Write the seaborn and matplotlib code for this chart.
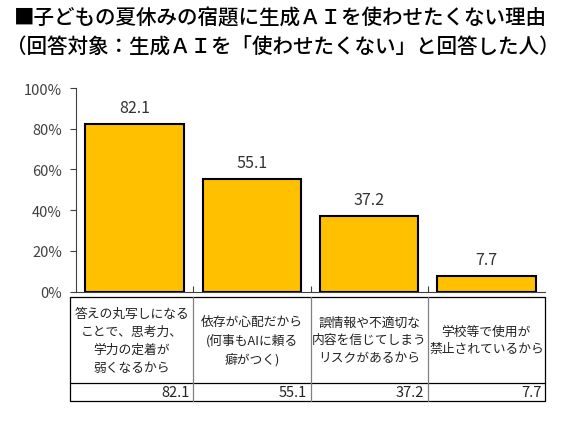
import matplotlib
matplotlib.use("Agg")
import matplotlib.pyplot as plt
import matplotlib.transforms as mtransforms
from matplotlib.lines import Line2D
import seaborn as sns
import pandas as pd

categories = [
    "答えの丸写しになる\nことで、思考力、\n学力の定着が\n弱くなるから",
    "依存が心配だから\n(何事もAIに頼る\n癖がつく)",
    "誤情報や不適切な\n内容を信じてしまう\nリスクがあるから",
    "学校等で使用が\n禁止されているから",
]
values = [82.1, 55.1, 37.2, 7.7]
yticks = [0, 20, 40, 60, 80, 100]
title1 = "■子どもの夏休みの宿題に生成ＡＩを使わせたくない理由"
title2 = "（回答対象：生成ＡＩを「使わせたくない」と回答した人）"

sns.set_theme(style="white")
plt.rcParams['font.family'] = ['Noto Sans CJK JP', 'DejaVu Sans']

df = pd.DataFrame({"cat": [str(i) for i in range(len(categories))], "val": values})

W, H = 576, 427
fig = plt.figure(figsize=(W / 100, H / 100), dpi=100)
ax = fig.add_axes([76 / W, 1 - 292.5 / H, (545 - 76) / W, (292.5 - 89) / H])

sns.barplot(data=df, x="cat", y="val", color="#FFC000", width=0.84,
            edgecolor="black", linewidth=1.5, saturation=1, ax=ax)

ax.set_ylim(0, 100)
ax.set_xlim(-0.5, len(categories) - 0.5)
ax.set_yticks(yticks)
ax.set_yticklabels([f"{t}%" for t in yticks], fontsize=10.5, color="#404040")
ax.set_xticks([i + 0.5 for i in range(len(categories) - 1)])
ax.set_xticklabels([])
ax.tick_params(axis="y", direction="out", length=4, width=0.8, color="#404040", pad=6, left=True)
ax.tick_params(axis="x", direction="in", length=4, width=0.8, color="#404040", bottom=True)
ax.set_xlabel("")
ax.set_ylabel("")
for s in ["top", "right"]:
    ax.spines[s].set_visible(False)
for s in ["left", "bottom"]:
    ax.spines[s].set_color("#404040")
    ax.spines[s].set_linewidth(0.8)

for i, v in enumerate(values):
    ax.text(i, v + 4, f"{v:.1f}", ha="center", va="bottom", fontsize=11.5, color="#333333")

# data table
tr = mtransforms.blended_transform_factory(ax.transData, fig.transFigure)
y_top = 1 - 298 / H
y_mid = 1 - 384 / H
y_bot = 1 - 402 / H
n = len(categories)
x_left = -0.5 - 6 / ((545 - 76) / n)
edges = [x_left] + [i + 0.5 for i in range(n)]
for y in [y_top, y_mid, y_bot]:
    fig.add_artist(Line2D([edges[0], edges[-1]], [y, y], transform=tr, color="black", lw=0.9))
for j, x in enumerate(edges):
    outer = j == 0 or j == len(edges) - 1
    fig.add_artist(Line2D([x, x], [y_bot, y_top], transform=tr,
                          color="black" if outer else "#808080", lw=0.9))
for i, c in enumerate(categories):
    cx = (edges[i] + edges[i + 1]) / 2
    fig.text(cx, (y_top + y_mid) / 2, c, transform=tr, ha="center", va="center",
             fontsize=9.2, linespacing=1.5, color="#222222")
    fig.text(edges[i + 1] - 0.03, (y_mid + y_bot) / 2, f"{values[i]:.1f}", transform=tr,
             ha="right", va="center", fontsize=10.5, color="#222222")

fig.text(14 / W, 1 - 18 / H, title1, ha="left", va="center", fontsize=14.8,
         fontweight="medium", color="black")
fig.text(6 / W, 1 - 48 / H, title2, ha="left", va="center", fontsize=14.8,
         fontweight="medium", color="black")

fig.savefig("out.png", dpi=100)
